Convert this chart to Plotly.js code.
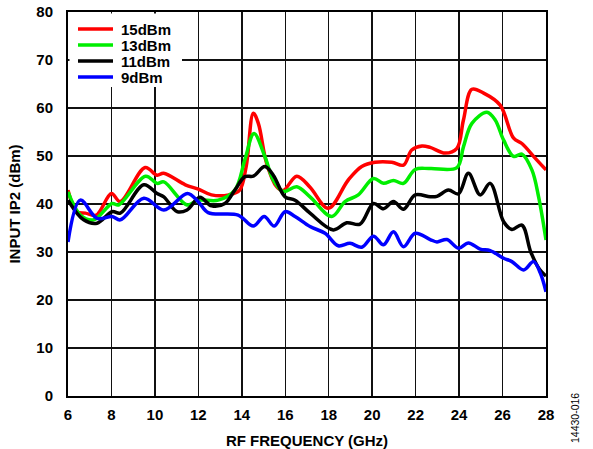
<!DOCTYPE html>
<html>
<head>
<meta charset="utf-8">
<script src="https://cdn.plot.ly/plotly-3.0.1.min.js"></script>
<style>html,body{margin:0;padding:0;background:#fff;}#chart{width:593px;height:449px;}</style>
</head>
<body>
<div id="chart"></div>
<script>
const seriesNames = ["15dBm", "13dBm", "11dBm", "9dBm"];
const seriesColors = ["#ff0000", "#00ee00", "#000000", "#0000ff"];

const freq15 = [6.0,6.4,6.8,7.3,8.0,8.4,9.55,10.1,10.4,11.4,12.0,12.6,13.4,13.9,14.2,14.53,14.76,15.14,15.6,15.9,16.53,17.14,17.98,18.9,19.52,20.13,20.9,21.44,21.82,22.29,22.67,23.36,23.9,24.2,24.59,25.13,25.89,26.51,26.89,27.51,28.0];
const ip2_15 = [42.9,38.4,38.1,37.7,42.2,40.5,47.6,46.0,46.4,44.0,43.1,41.9,41.9,42.9,47.8,58.9,56.8,48.5,43.6,42.8,45.8,43.5,39.1,45.0,47.8,48.7,48.7,48.1,51.25,52.1,51.8,50.6,51.6,57.5,63.9,63.1,60.6,53.7,52.6,49.5,47.1];

const freq13 = [6.0,6.57,7.18,8.03,8.33,9.57,10.1,10.41,11.48,11.99,12.91,13.68,14.14,14.56,15.06,15.45,15.91,16.53,17.14,18.14,18.75,19.36,20.06,20.52,20.98,21.44,21.98,22.67,23.9,24.2,24.59,25.28,25.66,26.05,26.51,26.89,27.35,27.66,28.0];
const ip2_13 = [42.5,37.7,36.7,40.1,39.8,45.8,44.3,44.6,39.8,40.8,40.8,42.9,49.2,54.7,49.9,45.0,42.6,43.6,41.5,37.4,40.5,41.9,45.3,44.3,44.9,44.3,47.2,47.4,47.6,51.9,56.8,59.1,57.5,53.3,49.9,50.4,47.1,41.5,32.5];

const freq11 = [6.0,6.72,7.34,8.03,8.41,9.49,10.1,10.41,11.02,11.48,12.07,12.61,13.22,13.68,14.14,14.53,15.06,15.45,15.99,16.45,17.14,18.21,18.83,19.44,20.06,20.52,20.98,21.44,21.98,22.67,22.98,23.51,23.97,24.43,24.97,25.43,26.05,26.43,26.89,27.3,27.7,28.0];
const ip2_11 = [40.8,36.7,36.0,38.4,38.1,44.0,42.2,41.5,38.4,38.75,41.4,39.6,40.1,42.9,45.7,45.8,47.8,46.0,41.5,40.8,38.1,34.6,36.1,35.8,40.1,39.0,40.5,38.9,41.9,41.5,41.6,42.9,42.1,46.4,41.9,44.3,36.3,34.7,35.6,30.0,26.4,25.0];

const freq9 = [6.0,6.57,7.34,8.03,8.41,9.49,10.41,11.5,11.99,12.45,13.83,14.53,15.03,15.49,15.99,16.45,17.14,17.83,18.44,18.98,19.52,20.06,20.52,20.98,21.44,21.98,22.67,22.98,23.44,23.97,24.43,24.97,25.43,26.05,26.43,26.97,27.43,27.74,28.0];
const ip2_9 = [32.1,40.8,37.0,37.4,36.7,41.2,38.75,42.2,40.5,38.2,37.7,35.4,37.4,35.4,38.4,37.4,35.3,33.9,31.3,31.8,31.0,33.3,31.5,34.2,31.1,33.9,32.6,32.1,32.6,30.8,31.9,30.6,30.3,28.7,28.0,26.25,28.0,25.6,21.7];

const xTickVals = [6,8,10,12,14,16,18,20,22,24,26,28];
const yTickVals = [0,10,20,30,40,50,60,70,80];

const xs = [freq15, freq13, freq11, freq9];
const ys = [ip2_15, ip2_13, ip2_11, ip2_9];

const traces = seriesNames.map((n, i) => ({
  x: xs[i], y: ys[i], name: n, type: 'scatter', mode: 'lines',
  line: {color: seriesColors[i], width: 3.5, shape: 'spline', smoothing: 1},
  showlegend: false
}));

const font = {family: 'Liberation Sans, Arial, sans-serif', size: 15, color: '#000', weight: 'bold'};

// legend drawn as shapes + annotations (paper px positions)
const W = 593, H = 449, L = 68, R = 47, T = 12, B = 53;
const pw = W - L - R, ph = H - T - B;
const px2x = p => (p - L) / pw;
const py2y = p => 1 - (p - T) / ph;

const shapes = [{
  type: 'rect', xref: 'paper', yref: 'paper', layer: 'above',
  x0: px2x(69.5), x1: px2x(182), y0: py2y(87), y1: py2y(13.5),
  fillcolor: '#fff', line: {width: 0}
}];
const annotations = [];
seriesNames.forEach((n, i) => {
  const yy = 29 + i * 16;
  shapes.push({type: 'line', xref: 'paper', yref: 'paper', layer: 'above',
    x0: px2x(78), x1: px2x(113), y0: py2y(yy), y1: py2y(yy),
    line: {color: seriesColors[i], width: 3.5}});
  annotations.push({xref: 'paper', yref: 'paper', x: px2x(120), y: py2y(yy),
    xanchor: 'left', yanchor: 'middle', text: n, showarrow: false, font: font,
    height: 14, valign: 'middle', borderpad: 0});
});
annotations.push({xref: 'paper', yref: 'paper', x: px2x(575), y: py2y(418),
  xanchor: 'center', yanchor: 'middle', text: '14430-016', textangle: -90, showarrow: false,
  font: {family: 'Liberation Sans, Arial, sans-serif', size: 10.5, color: '#000'}});

const layout = {
  width: W, height: H,
  margin: {l: L, r: R, t: T, b: B, pad: 0},
  paper_bgcolor: '#fff', plot_bgcolor: '#fff',
  showlegend: false,
  xaxis: {
    range: [6, 28], tickvals: xTickVals, ticktext: xTickVals.map(String),
    showgrid: true, gridcolor: '#111', gridwidth: 1.5,
    showline: true, linecolor: '#000', linewidth: 2, mirror: true,
    zeroline: false, ticks: '', ticklabelstandoff: 4,
    tickfont: font, fixedrange: true,
    title: {text: 'RF FREQUENCY (GHz)', font: font, standoff: 14}
  },
  yaxis: {
    range: [0, 80], tickvals: yTickVals, ticktext: yTickVals.map(String),
    showgrid: true, gridcolor: '#111', gridwidth: 1.5,
    showline: true, linecolor: '#000', linewidth: 2, mirror: true,
    zeroline: false, ticks: '', ticklabelstandoff: 10,
    tickfont: font, fixedrange: true,
    title: {text: 'INPUT IP2 (dBm)', font: font, standoff: 12}
  },
  shapes: shapes,
  annotations: annotations
};

Plotly.newPlot('chart', traces, layout, {displayModeBar: false, staticPlot: true});
</script>
</body>
</html>
